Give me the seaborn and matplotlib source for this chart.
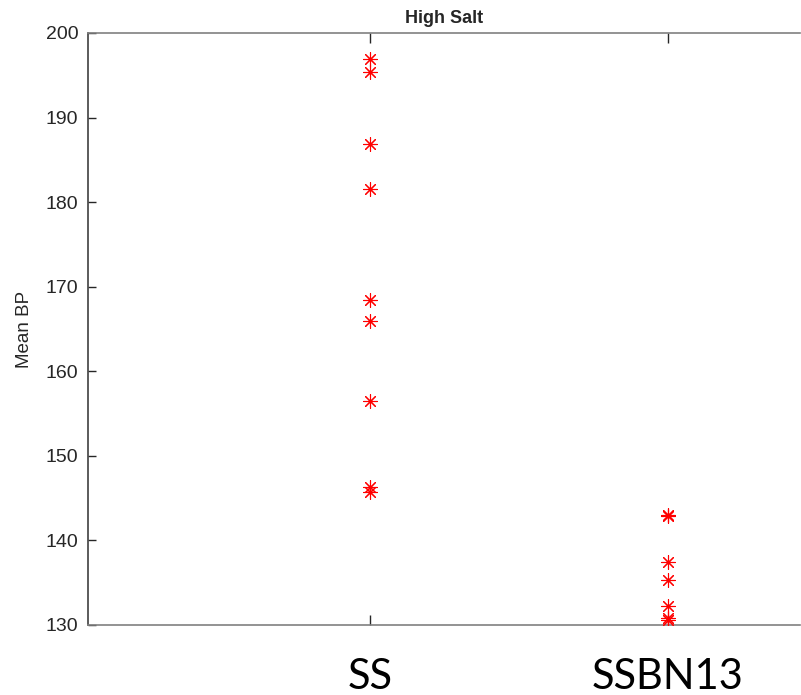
import pandas as pd
import matplotlib
matplotlib.use("Agg")
import matplotlib.pyplot as plt
import seaborn as sns

# values (mean BP on high salt diet)
groups = ["SS", "SSBN13"]
ss_bp = [196.9, 195.4, 186.9, 181.6, 168.4, 166.0, 156.5, 146.3, 145.7]
ssbn13_bp = [143.0, 142.9, 137.4, 135.3, 132.2, 130.8, 130.6]
y_ticks = [130, 140, 150, 160, 170, 180, 190, 200]

df = pd.DataFrame({
    "group": [groups[0]] * len(ss_bp) + [groups[1]] * len(ssbn13_bp),
    "bp": ss_bp + ssbn13_bp,
})

sns.set_style("white")
plt.rcParams["font.family"] = ["Liberation Sans", "DejaVu Sans"]

fig = plt.figure(figsize=(8.01, 6.95), dpi=100)
ax = fig.add_axes([88 / 801, 1 - 625 / 695, 712 / 801, 592 / 695])

sns.stripplot(data=df, x="group", y="bp", order=groups, jitter=False,
              marker=(8, 2, 0), color="red", size=10, linewidth=0.8,
              ax=ax)

ax.set_xlim(-0.946, 1.443)
ax.set_ylim(130, 200)
ax.set_yticks(y_ticks)
ax.set_xlabel("")
ax.set_ylabel("Mean BP", fontsize=13.5, color="#262626", labelpad=9)
ax.set_title("High Salt", fontsize=13, fontweight="bold", pad=7)

ax.tick_params(axis="y", direction="in", length=6, width=1, left=True,
               labelsize=14, colors="#262626", pad=7)
ax.tick_params(axis="x", direction="in", length=7, width=1, bottom=True,
               top=True, colors="#262626", pad=24)
for lab in ax.get_xticklabels():
    lab.set_fontfamily(["Lato", "DejaVu Sans"])
    lab.set_fontsize(30)
    lab.set_color("black")

for side in ["top", "bottom", "left"]:
    ax.spines[side].set_visible(True)
    ax.spines[side].set_color("#808080")
    ax.spines[side].set_linewidth(1.2)
ax.spines["left"].set_color("#404040")
ax.spines["right"].set_visible(False)

fig.savefig("out.png", dpi=100)
